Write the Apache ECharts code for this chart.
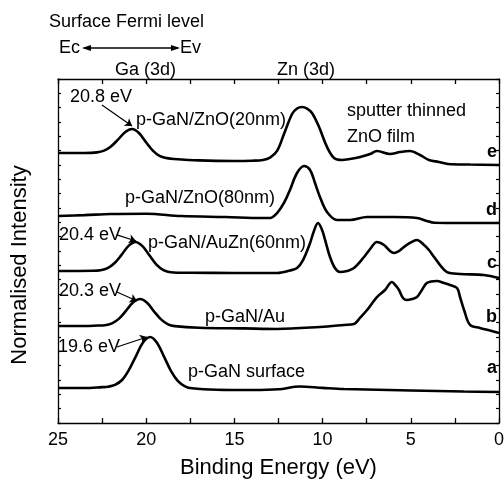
<!DOCTYPE html>
<html>
<head>
<meta charset="utf-8">
<script src="https://cdn.jsdelivr.net/npm/echarts@6/dist/echarts.min.js"></script>
<style>
  html, body { margin: 0; padding: 0; background: #fff; }
  #chart { width: 504px; height: 479px; }
</style>
</head>
<body>
<div id="chart"></div>
<script>
// binding energy (eV), stacked normalised intensity (arb. units)
var curveA = [[25, 2.44], [23.5, 2.44], [22.5, 2.5], [22.17, 2.53], [21.77, 2.66], [21.37, 3.0], [20.98, 3.7],
  [20.58, 4.67], [20.18, 5.61], [19.78, 6.0], [19.39, 5.6], [18.99, 4.63], [18.59, 3.62], [18.2, 2.92],
  [17.8, 2.56], [17.4, 2.42], [16, 2.32], [14, 2.3], [12.5, 2.35], [11.3, 2.55], [10, 2.45], [8.8, 2.37],
  [5, 2.27], [2, 2.2], [0, 2.16]]

var curveB = [[25, 6.77], [23.5, 6.77], [22.74, 6.8], [22.34, 6.82], [21.94, 6.95], [21.54, 7.28], [21.15, 7.82],
  [20.75, 8.4], [20.35, 8.65], [19.95, 8.39], [19.56, 7.79], [19.16, 7.23], [18.76, 6.88], [18.37, 6.76],
  [17, 6.65], [14.5, 6.6], [12.58, 6.56], [10.15, 6.7], [8.79, 6.84], [8.22, 6.91], [7.88, 7.33], [7.48, 7.88],
  [6.92, 8.79], [6.46, 9.28], [6.07, 9.84], [5.84, 9.56], [5.67, 9.28], [5.44, 8.72], [5.22, 8.58], [4.93, 8.65],
  [4.65, 8.79], [4.37, 9.28], [4.08, 9.77], [3.52, 9.91], [3.12, 9.77], [2.78, 9.63], [2.38, 9.42], [2.21, 8.79],
  [1.98, 7.88], [1.64, 6.84], [1.08, 6.63], [0.51, 6.45], [0, 6.28]]

var curveC = [[25, 10.6], [23, 10.62], [22.59, 10.66], [22.19, 10.8], [21.79, 11.16], [21.4, 11.73], [21.0, 12.36],
  [20.61, 12.63], [20.21, 12.34], [19.81, 11.68], [19.42, 11.05], [19.02, 10.67], [18.62, 10.52], [17.5, 10.48],
  [15, 10.47], [12.58, 10.47], [11.85, 10.64], [11.45, 10.81], [11.11, 11.37], [10.71, 12.56], [10.49, 13.4],
  [10.26, 13.95], [10.03, 13.47], [9.86, 12.77], [9.58, 11.58], [9.3, 10.81], [9.01, 10.53], [8.62, 10.6],
  [8.22, 10.81], [7.65, 11.58], [7.26, 12.21], [6.92, 12.63], [6.52, 12.42], [6.18, 12.0], [5.95, 11.86],
  [5.67, 12.0], [5.39, 12.28], [5.05, 12.56], [4.65, 12.77], [4.25, 12.42], [3.97, 12.07], [3.68, 11.58],
  [3.34, 11.02], [2.95, 10.53], [2.21, 10.4], [0.85, 10.33], [0, 10.12]]

var curveD = [[25, 14.44], [23.5, 14.5], [22, 14.58], [20, 14.6], [18, 14.44], [15.5, 14.37], [13.4, 14.3],
  [12.98, 14.3], [12.58, 14.65], [12.19, 15.35], [11.85, 16.26], [11.45, 17.44], [11.05, 17.93], [10.71, 17.65],
  [10.43, 16.74], [10.15, 15.77], [9.75, 14.72], [9.18, 14.16], [8.45, 14.16], [7.48, 14.37], [5.95, 14.37],
  [4.65, 14.3], [4.1, 14.1], [3.68, 13.97], [1.98, 13.95], [0, 13.95]]

var curveE = [[25, 18.84], [23.5, 18.84], [22.79, 18.88], [22.39, 19.0], [22.0, 19.29], [21.6, 19.77], [21.2, 20.29],
  [20.8, 20.51], [20.41, 20.23], [20.01, 19.59], [19.61, 18.99], [19.22, 18.62], [18.82, 18.48], [18.42, 18.42],
  [17, 18.32], [15, 18.28], [14, 18.3], [13.38, 18.35], [12.98, 18.52], [12.58, 18.98], [12.19, 20.16],
  [11.73, 21.56], [11.45, 21.94], [11.17, 22.05], [10.88, 21.94], [10.6, 21.63], [10.2, 20.65], [9.75, 19.26],
  [9.35, 18.49], [8.9, 18.35], [8.45, 18.42], [7.87, 18.56], [7.3, 18.77], [6.92, 18.98], [6.18, 18.77],
  [5.61, 18.91], [5.05, 18.98], [4.48, 18.7], [3.97, 18.35], [3.41, 18.21], [2.89, 18.07], [1.64, 18.03], [0, 18.0]]

// peak label arrows: [from, to] in [eV, intensity]
var arrowE = [[22.51, 22.19], [20.8, 20.72]]
var arrowC = [[21.66, 13.12], [20.58, 12.7]]
var arrowB = [[21.66, 9.14], [20.52, 8.51]]
var arrowA = [[21.66, 5.3], [19.95, 6.0]]

var FONT = '"Liberation Sans", Arial, sans-serif'

function arrow (pts) {
  return {
    silent: true,
    symbol: ['none', 'arrow'],
    symbolSize: 7,
    animation: false,
    label: { show: false },
    lineStyle: { color: '#000', width: 1.2, type: 'solid' },
    data: [[{ coord: pts[0] }, { coord: pts[1] }]]
  }
}

function spectrum (data, pts) {
  var s = {
    type: 'line',
    data: data,
    showSymbol: false,
    smooth: 0.35,
    lineStyle: { color: '#000', width: 2.6 },
    itemStyle: { color: '#000' }
  }
  if (pts) s.markLine = arrow(pts)
  return s
}

function txt (text, x, y, opt) {
  opt = opt || {}
  return {
    type: 'text',
    x: x,
    y: y,
    z: 100,
    rotation: opt.rotation || 0,
    style: {
      text: text,
      fill: '#000',
      font: (opt.bold ? 'bold ' : '') + (opt.size || 18) + 'px ' + FONT,
      textAlign: opt.align || 'left',
      textVerticalAlign: 'middle'
    }
  }
}

var lineSty = { color: '#000', width: 1.3 }

function xAx (pos, labels) {
  var a = {
    type: 'value',
    position: pos,
    min: 0, max: 25, interval: 5, inverse: true,
    axisLine: { show: true, onZero: false, lineStyle: lineSty },
    axisTick: { show: true, inside: true, length: 5, lineStyle: lineSty },
    minorTick: { show: true, splitNumber: 2, length: 5, lineStyle: lineSty },
    splitLine: { show: false },
    axisLabel: { show: labels, color: '#000', fontSize: 18, fontFamily: FONT, margin: 8 }
  }
  if (labels) {
    a.name = 'Binding Energy (eV)'
    a.nameLocation = 'middle'
    a.nameGap = 34
    a.nameTextStyle = { color: '#000', fontSize: 22, fontFamily: FONT }
  }
  return a
}

function yAx (pos) {
  return {
    type: 'value',
    position: pos,
    min: 0, max: 24, interval: 1,
    axisLine: { show: true, onZero: false, lineStyle: lineSty },
    axisTick: { show: true, inside: true, length: 3, lineStyle: { color: '#000', width: 1.2 } },
    splitLine: { show: false },
    axisLabel: { show: false }
  }
}

var chart = echarts.init(document.getElementById('chart'))
chart.setOption({
  animation: false,
  grid: { left: 58, right: 5, top: 79, bottom: 56, outerBoundsMode: 'none', containLabel: false },
  xAxis: [xAx('bottom', true), xAx('top', false)],
  yAxis: [yAx('left'), yAx('right')],
  series: [
    spectrum(curveA, arrowA),
    spectrum(curveB, arrowB),
    spectrum(curveC, arrowC),
    spectrum(curveD),
    spectrum(curveE, arrowE)
  ],
  graphic: [
    txt('Normalised Intensity', 20, 265, { rotation: Math.PI / 2, align: 'center', size: 22 }),
    txt('Surface Fermi level', 49, 22),
    txt('Ec', 59, 48),
    txt('Ev', 180, 48),
    { type: 'line', shape: { x1: 84, y1: 48, x2: 178, y2: 48 }, style: { stroke: '#000', lineWidth: 1.3 } },
    { type: 'polygon', shape: { points: [[82, 48], [91, 45], [91, 51]] }, style: { fill: '#000' } },
    { type: 'polygon', shape: { points: [[180, 48], [171, 45], [171, 51]] }, style: { fill: '#000' } },
    txt('Ga (3d)', 115, 70),
    txt('Zn (3d)', 277, 70),
    txt('20.8 eV', 70, 97),
    txt('p-GaN/ZnO(20nm)', 136, 120),
    txt('sputter thinned', 347, 111),
    txt('ZnO film', 347, 137),
    txt('p-GaN/ZnO(80nm)', 125, 198),
    txt('20.4 eV', 59, 235),
    txt('p-GaN/AuZn(60nm)', 148, 243),
    txt('20.3 eV', 59, 291),
    txt('p-GaN/Au', 205, 317),
    txt('19.6 eV', 58, 347),
    txt('p-GaN surface', 188, 372),
    txt('e', 497, 152, { bold: true, align: 'right' }),
    txt('d', 497, 210, { bold: true, align: 'right' }),
    txt('c', 497, 263, { bold: true, align: 'right' }),
    txt('b', 497, 317, { bold: true, align: 'right' }),
    txt('a', 497, 368, { bold: true, align: 'right' })
  ]
})
</script>
</body>
</html>
